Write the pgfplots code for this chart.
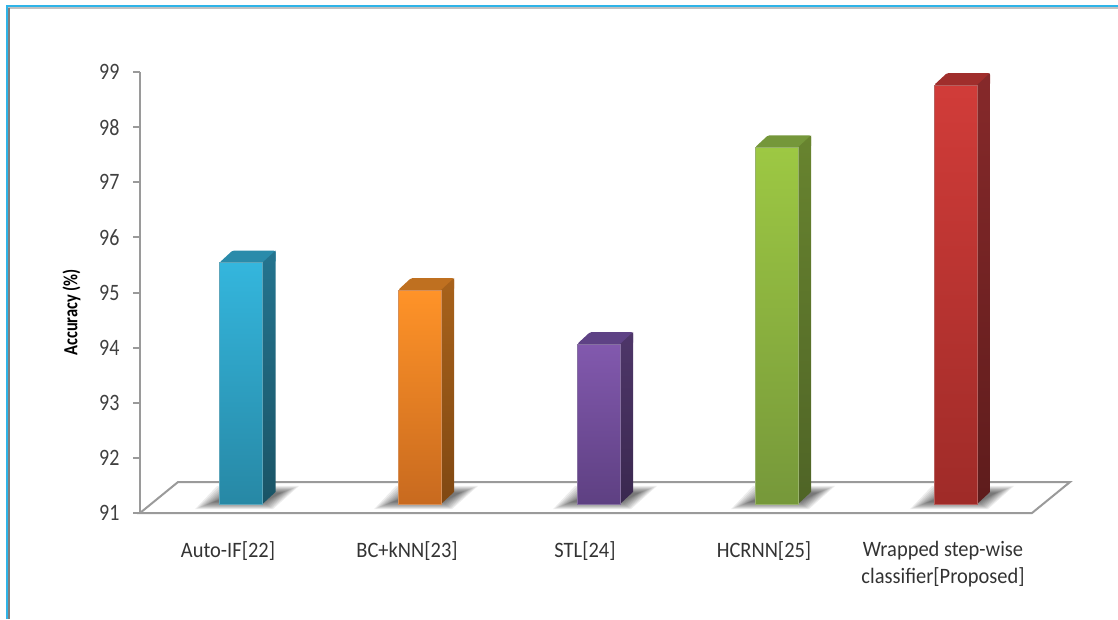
\documentclass[border=0pt]{standalone}
\usepackage{pgfplots}
\pgfplotsset{compat=1.18}
\usepackage{fontspec}
\setmainfont{Carlito}
\newfontfamily\narrowtick[FakeStretch=0.85]{Carlito}
\newfontfamily\narrowcat[FakeStretch=0.93]{Carlito}
\newfontfamily\narrowbold[FakeStretch=0.82]{Carlito Bold}
\definecolor{axisgrey}{HTML}{9A9A9A}
\definecolor{framecyan}{HTML}{2FB4E8}
\definecolor{blueA}{HTML}{34B6DD}\definecolor{blueB}{HTML}{2788A5}
\definecolor{blueC}{HTML}{24748F}\definecolor{blueD}{HTML}{1A5466}\definecolor{blueE}{HTML}{2A8BAA}
\definecolor{orangeA}{HTML}{FF9328}\definecolor{orangeB}{HTML}{C86A1F}
\definecolor{orangeC}{HTML}{A8621B}\definecolor{orangeD}{HTML}{804812}\definecolor{orangeE}{HTML}{BF7020}
\definecolor{purpleA}{HTML}{8259AE}\definecolor{purpleB}{HTML}{5E4082}
\definecolor{purpleC}{HTML}{4E3669}\definecolor{purpleD}{HTML}{3A284F}\definecolor{purpleE}{HTML}{5E4285}
\definecolor{greenA}{HTML}{9DC843}\definecolor{greenB}{HTML}{76983A}
\definecolor{greenC}{HTML}{68842F}\definecolor{greenD}{HTML}{4F6426}\definecolor{greenE}{HTML}{75973A}
\definecolor{redA}{HTML}{D13C39}\definecolor{redB}{HTML}{9F2B28}
\definecolor{redC}{HTML}{86292A}\definecolor{redD}{HTML}{5E1C1C}\definecolor{redE}{HTML}{A02E2C}

% One layer of the soft shadow a column throws on the floor
\newcommand{\shadowlayer}[2]{%
  \pgfmathsetmacro{\sa}{#1-24+#2}\pgfmathsetmacro{\sb}{#1+54-#2*0.5}%
  \pgfmathsetmacro{\sc}{#1+80-#2}\pgfmathsetmacro{\sd}{#1-2+#2}%
  \pgfmathsetmacro{\ylo}{91.07+#2*0.007}\pgfmathsetmacro{\yhi}{91.49-#2*0.007}%
  \addplot[fill=black, fill opacity=0.07, draw=none, forget plot]
    coordinates {(\sa,\ylo) (\sb,\ylo) (\sc,\yhi) (\sd,\yhi)} --cycle;
}
\newcommand{\columnshadow}[1]{%
  \shadowlayer{#1}{0}\shadowlayer{#1}{2}\shadowlayer{#1}{4}%
  \shadowlayer{#1}{6}\shadowlayer{#1}{8}\shadowlayer{#1}{10}%
  \shadowlayer{#1}{12}\shadowlayer{#1}{14}\shadowlayer{#1}{16}\shadowlayer{#1}{18}%
}
% A column: left edge, value, then front (top, bottom), side (top, bottom), cap colours
\newcommand{\column}[7]{%
  \pgfmathsetmacro{\xm}{#1+21.5}\pgfmathsetmacro{\xr}{#1+43}\pgfmathsetmacro{\xb}{#1+56}%
  \pgfmathsetmacro{\xc}{#1+13}%
  \pgfmathsetmacro{\yt}{#2+0.163}\pgfmathsetmacro{\yu}{#2+0.381}%
  \addplot[fill=#7, draw=none, rounded corners=1.5pt, forget plot]
    coordinates {(#1,\yt) (\xc,\yu) (\xb,\yu) (\xb,\yt) (\xr,\yt)} --cycle;
  \addplot[top color=#5, bottom color=#6, draw=none, forget plot]
    coordinates {(\xr,91.163) (\xr,\yt) (\xb,\yu) (\xb,91.381)} --cycle;
  \addplot[ybar, bar width=43pt, bar shift=0pt, yshift=9pt,
           top color=#3, bottom color=#4, draw=#4!75!white, line width=0.6pt, forget plot]
    coordinates {(\xm,#2)};
}

\begin{document}
\begin{tikzpicture}[x=1pt,y=1pt]
  \path[use as bounding box] (0,0) rectangle (1118,619);
  % window frame
  \draw[line width=2pt, axisgrey!60] (9,0) -- (9,611) -- (1118,611);
  \draw[line width=2pt, gray] (9,0) -- (9,611);
  \draw[line width=2pt, framecyan] (7,0) -- (7,613) -- (1118,613);
  \begin{axis}[
    at={(140pt,106pt)}, anchor=south west,
    scale only axis, width=930pt, height=441pt,
    xmin=140, xmax=1070, ymin=91, ymax=99,
    clip=false,
    axis lines=left, axis line style={draw=axisgrey, line width=2pt, -},
    x axis line style={draw=none},
    xtick={228,407,585,764,943},
    xticklabels={Auto-IF[22],BC+kNN[23],STL[24],HCRNN[25],{Wrapped step-wise\\classifier[Proposed]}},
    xticklabel style={align=center, font=\narrowcat\fontsize{22}{27}\selectfont, text=black!80, yshift=-18pt, anchor=north},
    x tick style={draw=none},
    ytick={91,...,99},
    yticklabel style={font=\narrowtick\fontsize{23.5}{26}\selectfont, text=black!75, /pgf/number format/assume math mode=true, xshift=-10pt},
    y tick style={draw=axisgrey, line width=2pt},
    tick align=outside, major tick length=7pt,
    ylabel={Accuracy (\%)},
    ylabel style={font=\narrowbold\fontsize{20}{22}\selectfont, text=black, at={(axis description cs:0,0.455)}, anchor=south, yshift=56pt},
  ]
    % floor of the chart
    \addplot[draw=axisgrey, line width=2pt, fill=white, forget plot]
      coordinates {(140,91) (178,91.562) (1070,91.562) (1032,91)} --cycle;
    \columnshadow{219}\columnshadow{398}\columnshadow{577}\columnshadow{755}\columnshadow{934}
    \column{219.5}{95.38}{blueA}{blueB}{blueC}{blueD}{blueE}
    \column{398}{94.88}{orangeA}{orangeB}{orangeC}{orangeD}{orangeE}
    \column{577}{93.9}{purpleA}{purpleB}{purpleC}{purpleD}{purpleE}
    \column{755}{97.47}{greenA}{greenB}{greenC}{greenD}{greenE}
    \column{934}{98.6}{redA}{redB}{redC}{redD}{redE}
  \end{axis}
\end{tikzpicture}
\end{document}
